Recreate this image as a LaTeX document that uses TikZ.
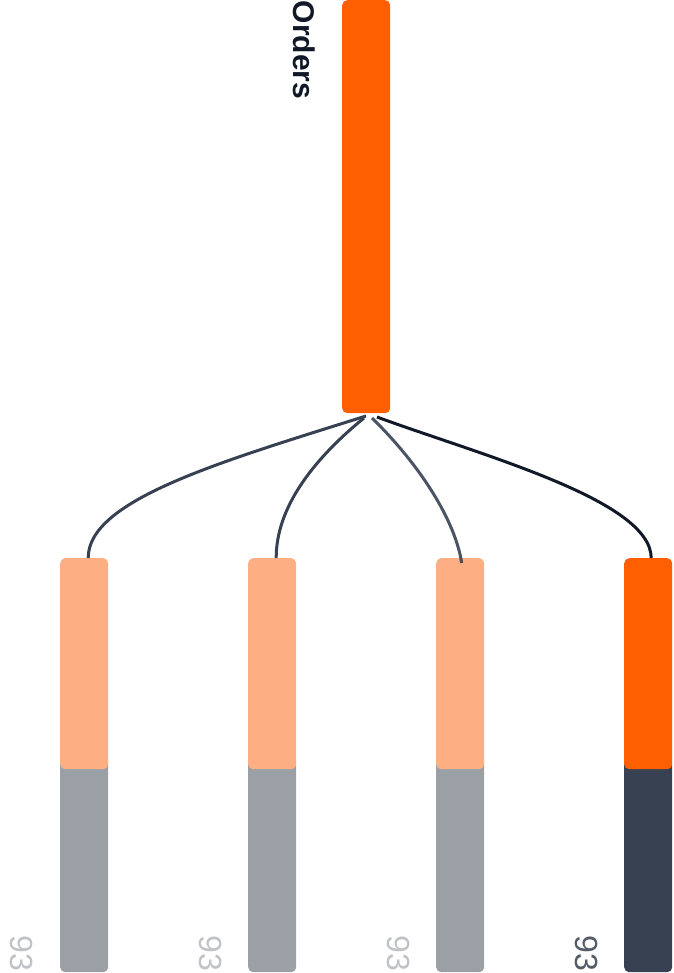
\documentclass[tikz,border=0pt]{standalone}
\usepackage{fontspec}
\setmainfont{Liberation Sans}
\definecolor{orangeM}{HTML}{FF5F00}
\definecolor{orangeL}{HTML}{FDAE82}
\definecolor{grayL}{HTML}{9AA0A6}
\definecolor{grayD}{HTML}{374151}
\definecolor{linkC}{HTML}{374151}
\definecolor{linkD}{HTML}{111827}
\definecolor{txtL}{HTML}{BFC2C6}
\definecolor{txtD}{HTML}{535B66}
\definecolor{titleC}{HTML}{111827}
\tikzset{
  bar/.style={draw=none, rounded corners=5pt, minimum width=48pt, inner sep=0pt, anchor=north west},
  link/.style={line width=3pt, draw=linkC},
  numlbl/.style={rotate=-90, font=\fontsize{32}{32}\selectfont, inner sep=0pt},
}
\begin{document}
\begin{tikzpicture}[x=1pt,y=-1pt]
\useasboundingbox (0,0) rectangle (673,973);
% top bar
\node[bar, fill=orangeM, minimum height=413pt] (top) at (342,0) {};
\node[rotate=-90, font=\fontsize{30}{30}\selectfont\bfseries, text=titleC, inner sep=0pt] (title) at (304,50) {Orders};
% bottom bars
\foreach \i/\x/\lo/\gr in {1/60/orangeL/grayL, 2/248/orangeL/grayL, 3/436/orangeL/grayL, 4/624/orangeM/grayD}{
  \node[bar, fill=\gr, minimum height=212pt] (g\i) at (\x,760) {};
  \node[bar, fill=\lo, minimum height=211pt] (b\i) at (\x,558) {};
}
% labels
\node[numlbl, text=txtL] (n1) at (22,953) {93};
\node[numlbl, text=txtL] (n2) at (211,953) {93};
\node[numlbl, text=txtL] (n3) at (399,953) {93};
\node[numlbl, text=txtD] (n4) at (587,953) {93};
% connector start and end points
\coordinate (s1) at (366,416);
\coordinate (s2) at (364,418);
\coordinate (s3) at (372,418);
\coordinate (s4) at (377,417);
\coordinate (e1) at ([xshift=4pt]b1.north);
\coordinate (e2) at ([xshift=4pt]b2.north);
\coordinate (e3) at ([xshift=1.5pt,yshift=-5pt]b3.north);
\coordinate (e4) at ([xshift=3pt]b4.north);
\draw[link] (s1) .. controls (220,462) and (88,500) .. (e1);
\draw[link] (s2) .. controls (310,462) and (276,510) .. (e2);
\draw[link, opacity=0.9] (s3) .. controls (420,465) and (455,520) .. (e3);
\draw[link, draw=linkD] (s4) .. controls (480,455) and (651,500) .. (e4);
\end{tikzpicture}
\end{document}
